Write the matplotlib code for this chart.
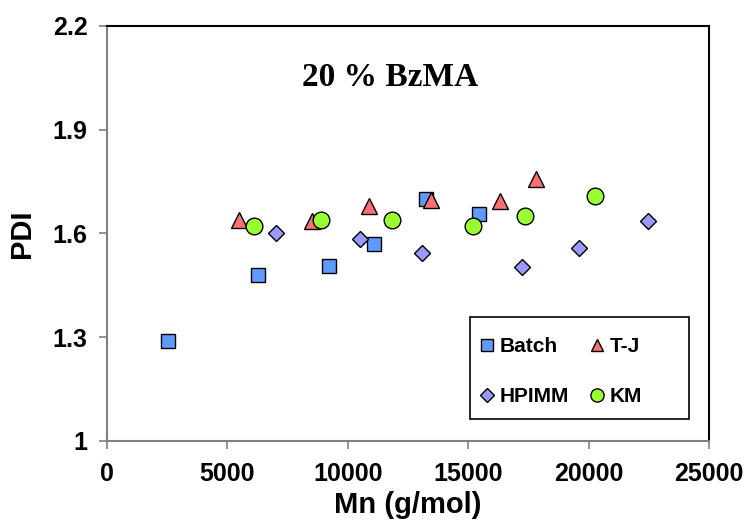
import matplotlib.pyplot as plt
from matplotlib.lines import Line2D
from matplotlib.patches import Rectangle

plt.rcParams['font.family'] = ['Liberation Sans', 'DejaVu Sans']

# --- data ---
batch_mn = [2550, 6280, 9210, 11090, 13250, 15460]
batch_pdi = [1.29, 1.48, 1.505, 1.57, 1.70, 1.657]

tj_mn = [5500, 8520, 10890, 13440, 16320, 17820]
tj_pdi = [1.64, 1.635, 1.68, 1.697, 1.693, 1.756]

hpimm_mn = [7020, 10510, 13090, 17220, 19590, 22450]
hpimm_pdi = [1.60, 1.585, 1.543, 1.504, 1.557, 1.637]

km_mn = [6100, 8880, 11820, 15190, 17360, 20270]
km_pdi = [1.62, 1.64, 1.64, 1.621, 1.65, 1.708]

x_ticks = [0, 5000, 10000, 15000, 20000, 25000]
y_ticks = [1, 1.3, 1.6, 1.9, 2.2]
y_tick_labels = ['1', '1.3', '1.6', '1.9', '2.2']

W, H = 747, 525
AX_L, AX_R, AX_T, AX_B = 107, 709, 25.7, 441

fig = plt.figure(figsize=(W / 100, H / 100), dpi=100)
ax = fig.add_axes([AX_L / W, 1 - AX_B / H, (AX_R - AX_L) / W, (AX_B - AX_T) / H])


def ax_xy(px, py):
    # pixel position in the figure -> axes fraction
    return (px - AX_L) / (AX_R - AX_L), (AX_B - py) / (AX_B - AX_T)


ax.plot(batch_mn, batch_pdi, 's', ms=10.5, mfc='#5f9bff', mec='black', mew=1.0, zorder=3)
ax.plot(tj_mn, tj_pdi, '^', ms=12, mfc='#ff7070', mec='black', mew=1.0, zorder=3)
ax.plot(hpimm_mn, hpimm_pdi, 'D', ms=8.5, mfc='#9999ff', mec='black', mew=1.0, zorder=3)
ax.plot(km_mn, km_pdi, 'o', ms=12, mfc='#99ff33', mec='black', mew=1.0, zorder=3)

ax.set_xlim(0, 25000)
ax.set_ylim(1, 2.2)
ax.set_xticks(x_ticks)
ax.set_yticks(y_ticks)
ax.set_yticklabels(y_tick_labels)

for side in ['left', 'bottom']:
    ax.spines[side].set_color('#808080')
    ax.spines[side].set_linewidth(1.5)
for side in ['top', 'right']:
    ax.spines[side].set_color('black')
    ax.spines[side].set_linewidth(1.5)

ax.tick_params(axis='both', direction='out', length=6, width=1.2, color='#808080',
               labelsize=18)
ax.tick_params(axis='x', pad=9)
ax.tick_params(axis='y', pad=8)
for lbl in ax.get_xticklabels() + ax.get_yticklabels():
    lbl.set_fontweight('bold')

ax.set_xlabel('Mn (g/mol)', fontsize=21, fontweight='bold', labelpad=4)
ax.set_ylabel('PDI', fontsize=21, fontweight='bold', labelpad=12)

ax.text(0.47, 0.876, '20 % BzMA', transform=ax.transAxes, ha='center', va='center',
        fontsize=24, fontweight='bold', family=['Liberation Serif', 'DejaVu Serif'])

# legend frame drawn separately, legend entries without frame
x0, y0 = ax_xy(470, 419)
x1, y1 = ax_xy(689, 317)
ax.add_patch(Rectangle((x0, y0), x1 - x0, y1 - y0, transform=ax.transAxes,
                       fill=True, facecolor='white', edgecolor='black', lw=1.2, zorder=4))

handles = [
    Line2D([], [], ls='none', marker='s', ms=8, mfc='#5f9bff', mec='black', mew=1.0),
    Line2D([], [], ls='none', marker='D', ms=7, mfc='#9999ff', mec='black', mew=1.0),
    Line2D([], [], ls='none', marker='^', ms=9, mfc='#ff7070', mec='black', mew=1.0),
    Line2D([], [], ls='none', marker='o', ms=9.5, mfc='#99ff33', mec='black', mew=1.0),
]
labels = ['Batch', 'HPIMM', 'T-J', 'KM']
leg = ax.legend(handles, labels, ncol=2, loc='upper left',
                bbox_to_anchor=ax_xy(477, 337), frameon=False,
                prop={'weight': 'bold', 'size': 15}, handletextpad=0.1,
                handlelength=1.0, borderaxespad=0, borderpad=0,
                labelspacing=1.5, columnspacing=0.85)
leg.set_zorder(5)

fig.savefig('out.png', dpi=100)
